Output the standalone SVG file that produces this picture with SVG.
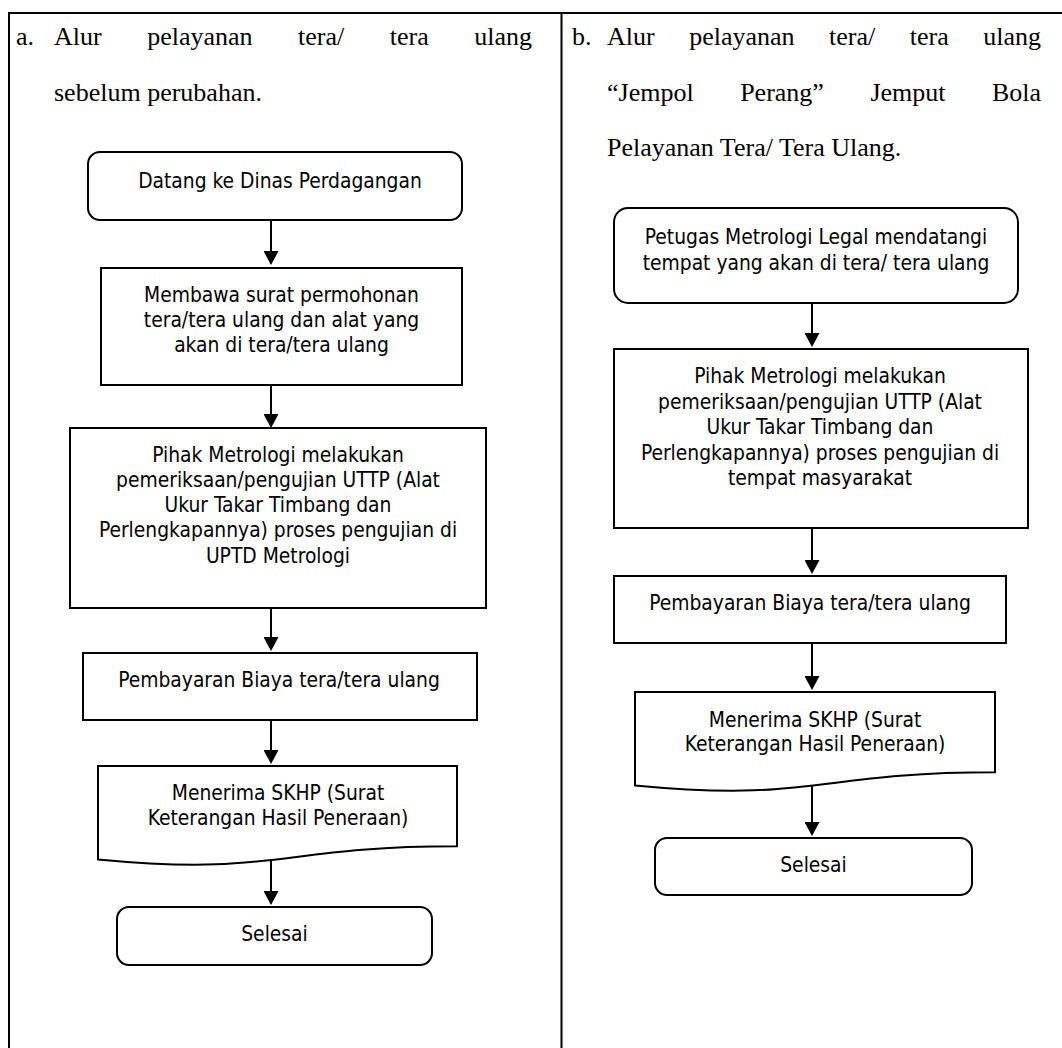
<svg xmlns="http://www.w3.org/2000/svg" width="1062" height="1048" viewBox="0 0 1062 1048">
<style>
.hd{font-family:'Liberation Serif','Times New Roman',serif;font-size:26px;fill:#000}
.bx{font-family:'DejaVu Sans Condensed','DejaVu Sans',sans-serif;font-stretch:condensed;font-size:20.8px;fill:#000;text-anchor:middle}
.sh{fill:#fff;stroke:#000;stroke-width:2}
.tb{stroke:#000;stroke-width:2;fill:none}
.cn{stroke:#000;stroke-width:2;fill:none;marker-end:url(#ah)}
</style>
<defs>
<marker id="ah" viewBox="0 0 14 15" refX="0" refY="7.5" markerWidth="14" markerHeight="15" markerUnits="userSpaceOnUse" orient="auto">
<path d="M0,0 L14,7.5 L0,15 z" fill="#000"/>
</marker>
</defs>
<rect width="1062" height="1048" fill="#fff"/>
<g id="table">
<path class="tb" d="M8,13 H1062 M9,13 V1048 M561.5,13 V1048"/>
</g>
<g id="headers">
<text class="hd" x="16" y="45">a.</text>
<text class="hd" x="54" y="45" word-spacing="39">Alur pelayanan tera/ tera ulang</text>
<text class="hd" x="54" y="101">sebelum perubahan.</text>
<text class="hd" x="572" y="45">b.</text>
<text class="hd" x="607" y="45" word-spacing="28">Alur pelayanan tera/ tera ulang</text>
<text class="hd" x="607" y="101" word-spacing="40">“Jempol Perang” Jemput Bola</text>
<text class="hd" x="607" y="156">Pelayanan Tera/ Tera Ulang.</text>
</g>
<g id="connectors">
<line class="cn" x1="271" y1="220" x2="271" y2="251"/>
<line class="cn" x1="271" y1="385" x2="271" y2="414"/>
<line class="cn" x1="271" y1="608" x2="271" y2="637"/>
<line class="cn" x1="271" y1="720" x2="271" y2="750"/>
<line class="cn" x1="271" y1="859" x2="271" y2="891"/>
<line class="cn" x1="812" y1="303" x2="812" y2="333"/>
<line class="cn" x1="812" y1="528" x2="812" y2="560"/>
<line class="cn" x1="812" y1="643" x2="812" y2="676"/>
<line class="cn" x1="812" y1="785" x2="812" y2="822"/>
</g>
<g id="L1">
<rect class="sh" x="88" y="152" width="374" height="68" rx="12"/>
<text class="bx" x="280" y="188">Datang ke Dinas Perdagangan</text>
</g>
<g id="L2">
<rect class="sh" x="101" y="268" width="361" height="117"/>
<text class="bx" x="281.5" y="302">Membawa surat permohonan</text>
<text class="bx" x="281.5" y="327">tera/tera ulang dan alat yang</text>
<text class="bx" x="281.5" y="352">akan di tera/tera ulang</text>
</g>
<g id="L3">
<rect class="sh" x="70" y="428" width="416" height="180"/>
<text class="bx" x="278" y="462">Pihak Metrologi melakukan</text>
<text class="bx" x="278" y="487">pemeriksaan/pengujian UTTP (Alat</text>
<text class="bx" x="278" y="512">Ukur Takar Timbang dan</text>
<text class="bx" x="278" y="537">Perlengkapannya) proses pengujian di</text>
<text class="bx" x="278" y="563">UPTD Metrologi</text>
</g>
<g id="L4">
<rect class="sh" x="83" y="653" width="394" height="67"/>
<text class="bx" x="279" y="687">Pembayaran Biaya tera/tera ulang</text>
</g>
<g id="L5">
<path class="sh" d="M98,766 H457 V846.2 C277.5,846.2 277.5,876.7 98,859.4 Z"/>
<text class="bx" x="278" y="800">Menerima SKHP (Surat</text>
<text class="bx" x="278" y="825">Keterangan Hasil Peneraan)</text>
</g>
<g id="L6">
<rect class="sh" x="117" y="907" width="315" height="58" rx="12"/>
<text class="bx" x="274.5" y="941">Selesai</text>
</g>
<g id="R1">
<rect class="sh" x="614" y="208" width="404" height="95" rx="14"/>
<text class="bx" x="816" y="244">Petugas Metrologi Legal mendatangi</text>
<text class="bx" x="816" y="270">tempat yang akan di tera/ tera ulang</text>
</g>
<g id="R2">
<rect class="sh" x="614" y="349" width="414" height="179"/>
<text class="bx" x="820" y="383">Pihak Metrologi melakukan</text>
<text class="bx" x="820" y="408.5">pemeriksaan/pengujian UTTP (Alat</text>
<text class="bx" x="820" y="434">Ukur Takar Timbang dan</text>
<text class="bx" x="820" y="459.5">Perlengkapannya) proses pengujian di</text>
<text class="bx" x="820" y="485">tempat masyarakat</text>
</g>
<g id="R3">
<rect class="sh" x="614" y="576" width="392" height="67"/>
<text class="bx" x="810" y="610">Pembayaran Biaya tera/tera ulang</text>
</g>
<g id="R4">
<path class="sh" d="M635,692 H995 V772.2 C815,772.2 815,802.7 635,785.4 Z"/>
<text class="bx" x="815" y="727">Menerima SKHP (Surat</text>
<text class="bx" x="815" y="751">Keterangan Hasil Peneraan)</text>
</g>
<g id="R5">
<rect class="sh" x="655" y="838" width="317" height="57" rx="12"/>
<text class="bx" x="813.5" y="872">Selesai</text>
</g>
</svg>
